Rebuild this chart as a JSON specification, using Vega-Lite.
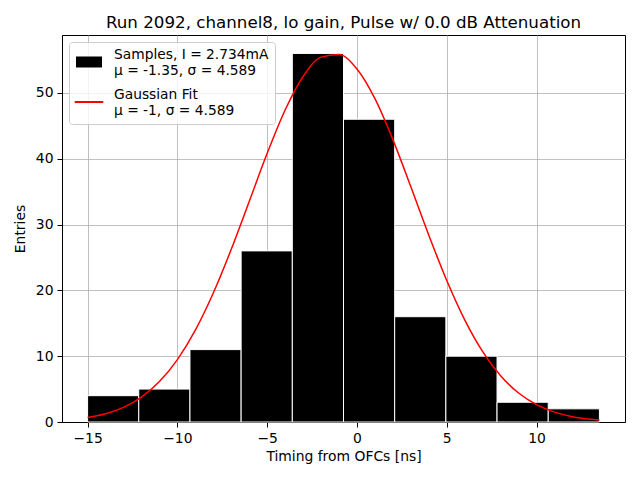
{
  "$schema": "https://vega.github.io/schema/vega-lite/v6.json",
  "autosize": {"type": "none"},
  "width": 563,
  "height": 387,
  "padding": {"left": 62, "top": 35, "right": 15, "bottom": 58},
  "title": {
    "text": "Run 2092, channel8, lo gain, Pulse w/ 0.0 dB Attenuation",
    "fontSize": 16.7,
    "fontWeight": "normal",
    "offset": 3,
    "color": "black"
  },
  "datasets": {
    "bins": [
      {"lo": -15.0, "hi": -12.15, "count": 4},
      {"lo": -12.15, "hi": -9.3, "count": 5},
      {"lo": -9.3, "hi": -6.45, "count": 11},
      {"lo": -6.45, "hi": -3.6, "count": 26},
      {"lo": -3.6, "hi": -0.75, "count": 56},
      {"lo": -0.75, "hi": 2.1, "count": 46},
      {"lo": 2.1, "hi": 4.95, "count": 16},
      {"lo": 4.95, "hi": 7.8, "count": 10},
      {"lo": 7.8, "hi": 10.65, "count": 3},
      {"lo": 10.65, "hi": 13.5, "count": 2}
    ],
    "fit": [
      {"t": -15, "y": 0.67},
      {"t": -14, "y": 1.25},
      {"t": -13, "y": 2.23},
      {"t": -12, "y": 3.79},
      {"t": -11, "y": 6.14},
      {"t": -10, "y": 9.48},
      {"t": -9, "y": 13.96},
      {"t": -8, "y": 19.6},
      {"t": -7, "y": 26.24},
      {"t": -6, "y": 33.51},
      {"t": -5, "y": 40.82},
      {"t": -4, "y": 47.4},
      {"t": -3, "y": 52.5},
      {"t": -2, "y": 55.44},
      {"t": -1, "y": 55.84},
      {"t": 0, "y": 53.63},
      {"t": 1, "y": 49.12},
      {"t": 2, "y": 42.9},
      {"t": 3, "y": 35.73},
      {"t": 4, "y": 28.38},
      {"t": 5, "y": 21.5},
      {"t": 6, "y": 15.53},
      {"t": 7, "y": 10.7},
      {"t": 8, "y": 7.03},
      {"t": 9, "y": 4.4},
      {"t": 10, "y": 2.63},
      {"t": 11, "y": 1.5},
      {"t": 12, "y": 0.81},
      {"t": 13, "y": 0.42},
      {"t": 13.5, "y": 0.3}
    ],
    "keys": [
      {"series": "Samples"},
      {"series": "Fit"}
    ]
  },
  "layer": [
    {
      "data": {"name": "bins"},
      "mark": {"type": "rect", "fill": "black", "stroke": "white", "strokeWidth": 1},
      "encoding": {
        "x": {
          "field": "lo",
          "type": "quantitative",
          "scale": {"domain": [-16.425, 14.925], "nice": false, "zero": false},
          "axis": {
            "title": "Timing from OFCs [ns]",
            "values": [-15, -10, -5, 0, 5, 10]
          }
        },
        "x2": {"field": "hi"},
        "y": {
          "field": "count",
          "type": "quantitative",
          "scale": {"domain": [0, 58.8], "nice": false},
          "axis": {"title": "Entries", "values": [0, 10, 20, 30, 40, 50]}
        },
        "y2": {"datum": 0}
      }
    },
    {
      "data": {"name": "fit"},
      "mark": {"type": "line", "interpolate": "monotone", "strokeWidth": 1.5, "color": "red"},
      "encoding": {
        "x": {"field": "t", "type": "quantitative"},
        "y": {"field": "y", "type": "quantitative"}
      }
    },
    {
      "data": {"name": "keys"},
      "transform": [{"filter": "false"}],
      "mark": {"type": "point", "filled": false, "strokeWidth": 2, "opacity": 1},
      "encoding": {
        "color": {
          "field": "series",
          "type": "nominal",
          "scale": {"domain": ["Samples", "Fit"], "range": ["black", "red"]},
          "legend": {
            "orient": "top-left",
            "offset": 7,
            "title": null,
            "padding": 6,
            "fillColor": "rgba(255,255,255,0.8)",
            "strokeColor": "#cccccc",
            "cornerRadius": 3,
            "labelFontSize": 13.8,
            "labelLimit": 300,
            "labelOffset": 11,
            "labelBaseline": "bottom",
            "rowPadding": 10,
            "symbolSize": 676,
            "symbolStrokeWidth": 2,
            "labelExpr": "datum.value === 'Samples' ? ['Samples, I = 2.734mA', 'μ = -1.35, σ = 4.589'] : ['Gaussian Fit', 'μ = -1, σ = 4.589']"
          }
        },
        "shape": {
          "field": "series",
          "type": "nominal",
          "scale": {
            "domain": ["Samples", "Fit"],
            "range": [
              "M-1,-0.35H1M-1,-0.21H1M-1,-0.07H1M-1,0.07H1M-1,0.21H1M-1,0.35H1",
              "M-1.1,0H1.1"
            ]
          },
          "legend": {
            "orient": "top-left",
            "title": null,
            "labelExpr": "datum.value === 'Samples' ? ['Samples, I = 2.734mA', 'μ = -1.35, σ = 4.589'] : ['Gaussian Fit', 'μ = -1, σ = 4.589']"
          }
        }
      }
    }
  ],
  "config": {
    "font": "DejaVu Sans",
    "view": {"stroke": "black", "strokeWidth": 1},
    "axis": {
      "grid": true,
      "gridColor": "#b0b0b0",
      "gridWidth": 0.8,
      "zindex": 1,
      "domainColor": "black",
      "tickColor": "black",
      "tickSize": 5,
      "labelFontSize": 13.9,
      "labelColor": "black",
      "labelPadding": 4,
      "titleFontSize": 13.9,
      "titleFontWeight": "normal",
      "titleColor": "black",
      "labelFlush": false
    },
    "axisX": {"titlePadding": 5},
    "axisY": {"titlePadding": 8},
    "legend": {"labelColor": "black"}
  }
}
